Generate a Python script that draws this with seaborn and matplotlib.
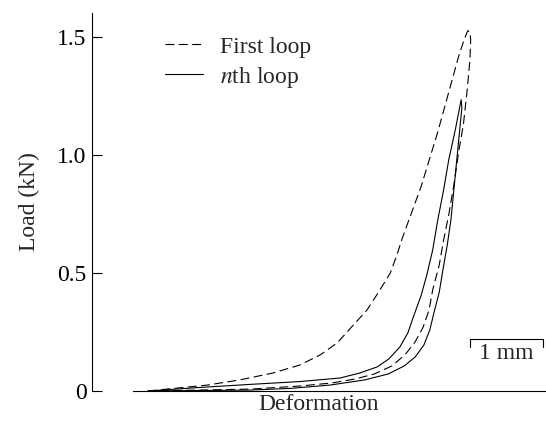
import matplotlib
matplotlib.use('Agg')
import matplotlib.pyplot as plt
import numpy as np
import pandas as pd
import seaborn as sns

# deformation (mm, from start of loading) and load (kN)
first_load_x = [0.00, 0.81, 1.26, 1.71, 2.08, 2.36, 2.59, 3.00, 3.16, 3.32, 3.41, 3.49, 3.74, 3.97, 4.11, 4.25, 4.33, 4.38, 4.41]
first_load_y = [0.000, 0.025, 0.047, 0.076, 0.110, 0.153, 0.203, 0.343, 0.419, 0.500, 0.576, 0.653, 0.864, 1.097, 1.254, 1.411, 1.487, 1.525, 1.521]
first_unload_x = [4.42, 4.41, 4.37, 4.32, 4.26, 4.19, 4.12, 4.05, 3.99, 3.90, 3.85, 3.77, 3.66, 3.52, 3.34, 3.10, 2.84, 2.52, 2.08, 1.40, 0.71, 0.00]
first_unload_y = [1.487, 1.403, 1.267, 1.127, 1.021, 0.873, 0.746, 0.640, 0.534, 0.428, 0.343, 0.271, 0.208, 0.153, 0.106, 0.072, 0.051, 0.034, 0.021, 0.008, 0.004, 0.000]

nth_load_x = [0.00, 0.71, 1.40, 2.08, 2.63, 2.90, 3.14, 3.30, 3.45, 3.56, 3.64, 3.74, 3.82, 3.90, 3.97, 4.05, 4.12, 4.21, 4.29]
nth_load_y = [0.000, 0.015, 0.028, 0.040, 0.055, 0.076, 0.102, 0.136, 0.186, 0.246, 0.318, 0.403, 0.492, 0.597, 0.725, 0.852, 0.979, 1.106, 1.233]
nth_unload_x = [4.30, 4.27, 4.23, 4.19, 4.15, 4.10, 4.04, 3.99, 3.92, 3.86, 3.78, 3.66, 3.51, 3.29, 2.97, 2.49, 1.95, 1.40, 0.00]
nth_unload_y = [1.199, 1.106, 0.979, 0.852, 0.725, 0.619, 0.513, 0.419, 0.335, 0.258, 0.195, 0.144, 0.106, 0.072, 0.047, 0.025, 0.011, 0.004, 0.000]

yticks = [0, 0.5, 1.0, 1.5]
yticklabels = ['0', '0.5', '1.0', '1.5']
scale_start = 4.41   # mm, left end of the scale bar
scale_len = 1.0      # mm
scale_y = 0.22

sns.set_theme(style='white')
plt.rcParams['font.family'] = ['Liberation Serif', 'DejaVu Serif']
plt.rcParams['mathtext.fontset'] = 'stix'
plt.rcParams['font.size'] = 17

first = pd.DataFrame({'Deformation': first_load_x + first_unload_x,
                      'Load': first_load_y + first_unload_y})
nth = pd.DataFrame({'Deformation': nth_load_x + nth_unload_x,
                    'Load': nth_load_y + nth_unload_y})

fig, ax = plt.subplots(figsize=(5.46, 4.34), dpi=100)
fig.subplots_adjust(left=92/546, right=1.0, bottom=43/434, top=421/434)

sns.lineplot(data=first, x='Deformation', y='Load', sort=False, estimator=None,
             color='black', lw=0.8, linestyle=(0, (8, 4)), label='First loop', ax=ax)
sns.lineplot(data=nth, x='Deformation', y='Load', sort=False, estimator=None,
             color='black', lw=0.8, label='$n$th loop', ax=ax)

ax.set_xlim(-0.767, 5.452)
ax.set_ylim(0, 1.60)
ax.set_xticks([])
ax.set_yticks(yticks)
ax.set_yticklabels(yticklabels)
ax.tick_params(axis='y', direction='in', length=7, width=0.8, pad=4, left=True, labelsize=17, colors='black')
ax.set_xlabel('Deformation', fontsize=17, labelpad=2)
ax.set_ylabel('Load (kN)', fontsize=17, labelpad=12)

for s in ['top', 'right']:
    ax.spines[s].set_visible(False)
for s in ['left', 'bottom']:
    ax.spines[s].set_color('black')
    ax.spines[s].set_linewidth(0.8)
ax.spines['bottom'].set_bounds(-0.205, 5.452)

# scale bar
ax.plot([scale_start, scale_start, scale_start + scale_len, scale_start + scale_len],
        [scale_y - 0.034, scale_y, scale_y, scale_y - 0.034], color='black', lw=0.8)
ax.text(scale_start + scale_len / 2, scale_y - 0.015, '1 mm', ha='center', va='top', fontsize=17)

leg = ax.legend(loc='upper left', bbox_to_anchor=(0.115, 0.995), frameon=False,
                handlelength=1.6, handletextpad=0.7, labelspacing=0.3, fontsize=17)

fig.savefig('out.png', dpi=100)
